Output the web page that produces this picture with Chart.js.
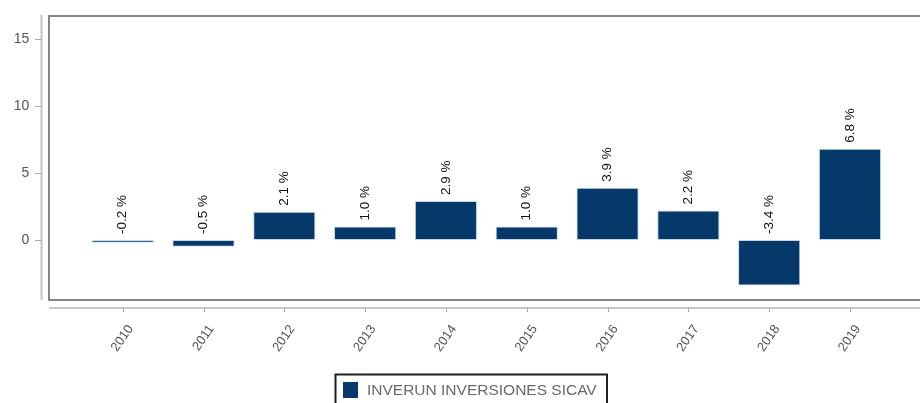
<!DOCTYPE html>
<html>
<head>
<meta charset="utf-8">
<script src="https://cdn.jsdelivr.net/npm/chart.js@4.4.1/dist/chart.umd.min.js"></script>
<style>
  html, body { margin: 0; padding: 0; background: #fff; }
  #wrap { width: 920px; height: 403px; }
</style>
</head>
<body>
<div id="wrap"><canvas id="chart" width="920" height="403"></canvas></div>
<script>
/* ---- Data ---- */
const years      = ['2010', '2011', '2012', '2013', '2014', '2015', '2016', '2017', '2018', '2019'];
const returns    = [-0.2, -0.5, 2.1, 1.0, 2.9, 1.0, 3.9, 2.2, -3.4, 6.8];
const yTicks     = [0, 5, 10, 15];
const seriesName = 'INVERUN INVERSIONES SICAV';

const BAR_COLOR = '#06386a';
const FONT      = "'Liberation Sans', Arial, sans-serif";

/* Frame, offset axes, value labels and boxed legend */
const decorPlugin = {
  id: 'decor',
  beforeDatasetsDraw(chart) {
    const { ctx, chartArea, scales } = chart;
    const x = scales.x, y = scales.y;
    ctx.save();

    // plot frame (runs off the right edge, like the original)
    ctx.strokeStyle = '#858585';
    ctx.lineWidth = 2;
    ctx.strokeRect(49, chartArea.top + 1, 900, chartArea.bottom - chartArea.top - 1);

    // detached y axis
    ctx.strokeStyle = '#c2c2c2';
    ctx.beginPath();
    ctx.moveTo(41.5, chartArea.top);
    ctx.lineTo(41.5, chartArea.bottom);
    ctx.stroke();
    ctx.lineWidth = 1;
    ctx.strokeStyle = '#a8a8a8';
    yTicks.forEach(v => {
      const py = Math.round(y.getPixelForValue(v)) + 0.5;
      ctx.beginPath();
      ctx.moveTo(35, py);
      ctx.lineTo(41, py);
      ctx.stroke();
    });

    // detached x axis
    const axY = chartArea.bottom + 8;
    ctx.lineWidth = 2;
    ctx.strokeStyle = '#c8c8c8';
    ctx.beginPath();
    ctx.moveTo(49, axY);
    ctx.lineTo(chart.width, axY);
    ctx.stroke();
    ctx.lineWidth = 1;
    ctx.strokeStyle = '#a8a8a8';
    years.forEach((_, i) => {
      const px = Math.round(x.getPixelForValue(i)) + 0.5;
      ctx.beginPath();
      ctx.moveTo(px, axY);
      ctx.lineTo(px, axY + 4);
      ctx.stroke();
    });
    ctx.restore();
  },
  afterDatasetsDraw(chart) {
    const { ctx } = chart;
    const meta = chart.getDatasetMeta(0);
    const zero = chart.scales.y.getPixelForValue(0);
    ctx.save();
    ctx.fillStyle = '#111';
    ctx.font = `13.5px ${FONT}`;
    ctx.textAlign = 'left';
    ctx.textBaseline = 'middle';
    meta.data.forEach((bar, i) => {
      const top = Math.min(bar.y, zero);
      ctx.save();
      ctx.translate(bar.x, top - 6);
      ctx.rotate(-Math.PI / 2);
      ctx.fillText(returns[i].toFixed(1) + ' %', 0, 0);
      ctx.restore();
    });

    // legend
    ctx.lineWidth = 2;
    ctx.strokeStyle = '#1e1e1e';
    ctx.strokeRect(335.5, 374.5, 271.5, 40);
    ctx.fillStyle = chart.data.datasets[0].backgroundColor;
    ctx.fillRect(343, 382, 15, 16);
    ctx.fillStyle = '#6a6a6a';
    ctx.font = `15.5px ${FONT}`;
    ctx.fillText(chart.data.datasets[0].label, 367, 391);
    ctx.restore();
  }
};

new Chart(document.getElementById('chart').getContext('2d'), {
  type: 'bar',
  data: {
    labels: years,
    datasets: [{
      label          : seriesName,
      data           : returns,
      backgroundColor: BAR_COLOR,
      borderColor    : 'rgba(150,180,210,0.55)',
      borderWidth    : 1,
      borderSkipped  : false,
      barPercentage  : 0.77,
      categoryPercentage: 1,
    }],
  },
  options: {
    responsive: false,
    devicePixelRatio: 1,
    animation: false,
    layout: { padding: { top: 15, right: 29.6, left: 0, bottom: 0 } },
    plugins: {
      legend : { display: false },
      tooltip: { enabled: false },
    },
    scales: {
      x: {
        offset: true,
        grid  : { display: false, drawTicks: false },
        border: { display: false },
        ticks : {
          autoSkip: false,
          minRotation: 55,
          maxRotation: 55,
          labelOffset: 8,
          padding: 22,
          color: '#555',
          font: { size: 13, family: FONT },
        },
        afterFit: s => { s.height = 103; s.paddingLeft = 0; s.paddingRight = 0; },
      },
      y: {
        min: -4.48,
        max: 16.79,
        grid  : { display: false, drawTicks: false },
        border: { display: false },
        ticks : {
          padding: 53,
          color: '#555',
          font: { size: 14, family: FONT },
        },
        afterBuildTicks: s => { s.ticks = yTicks.map(v => ({ value: v })); },
        afterFit: s => { s.width = 82.3; s.paddingTop = 0; s.paddingBottom = 0; },
      },
    },
  },
  plugins: [decorPlugin],
});
</script>
</body>
</html>
